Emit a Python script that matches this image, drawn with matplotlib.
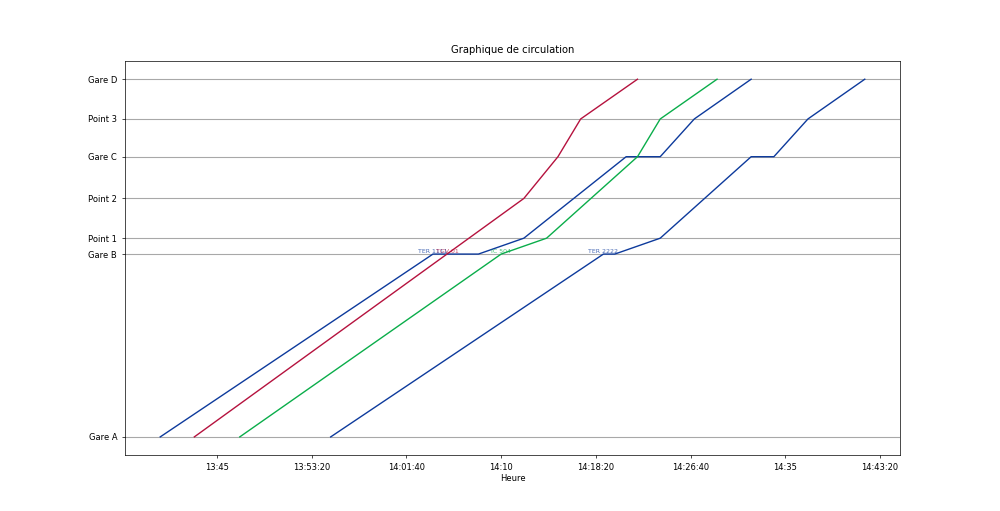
import matplotlib
matplotlib.use("Agg")
import matplotlib.pyplot as plt
from matplotlib.ticker import FuncFormatter

# --- stations (km depuis Gare A) ---
gares = ["Gare A", "Gare B", "Point 1", "Point 2", "Gare C", "Point 3", "Gare D"]
km_gares = [0, 46, 50, 60, 70.5, 80, 90]

def hms(h, m, s=0):
    return h * 3600 + m * 60 + s

# --- marches des trains : (gare, heure) ---
ter1111_gares = ["Gare A", "Gare B", "Gare B", "Point 1", "Gare C", "Gare C", "Point 3", "Gare D"]
ter1111_heures = [hms(13, 40), hms(14, 4), hms(14, 8), hms(14, 12), hms(14, 21), hms(14, 24), hms(14, 27), hms(14, 32)]

tgv01_gares = ["Gare A", "Point 2", "Gare C", "Point 3", "Gare D"]
tgv01_heures = [hms(13, 43), hms(14, 12), hms(14, 15), hms(14, 17), hms(14, 22)]

ic504_gares = ["Gare A", "Gare B", "Point 1", "Gare C", "Point 3", "Gare D"]
ic504_heures = [hms(13, 47), hms(14, 10), hms(14, 14), hms(14, 22), hms(14, 24), hms(14, 29)]

ter2222_gares = ["Gare A", "Gare B", "Gare B", "Point 1", "Gare C", "Gare C", "Point 3", "Gare D"]
ter2222_heures = [hms(13, 55), hms(14, 19), hms(14, 20), hms(14, 24), hms(14, 32), hms(14, 34), hms(14, 37), hms(14, 42)]

# label posé à l'arrivée en Gare B
trains = [
    ("TER 1111", ter1111_gares, ter1111_heures, "#0d3a9c", hms(14, 4)),
    ("TGV 01", tgv01_gares, tgv01_heures, "#b5123e", hms(13, 43) + 1334),
    ("IC 504", ic504_gares, ic504_heures, "#0aad4a", hms(14, 10)),
    ("TER 2222", ter2222_gares, ter2222_heures, "#0d3a9c", hms(14, 19)),
]

pos = dict(zip(gares, km_gares))

fig, ax = plt.subplots(figsize=(10, 5.11), dpi=100)

for y in km_gares:
    ax.axhline(y, color="#a8a8a8", lw=0.8, zorder=1)

for nom, g, t, couleur, t_label in trains:
    ys = [pos[s] for s in g]
    ax.plot(t, ys, color=couleur, lw=1.0, zorder=3)
    ax.text(t_label, pos["Gare B"], nom, color=couleur, fontsize=4.5,
            ha="center", va="bottom", alpha=0.75, zorder=4)

def fmt_heure(x, _):
    x = int(round(x))
    h, m, s = x // 3600, (x % 3600) // 60, x % 60
    return f"{h}:{m:02d}" + (f":{s:02d}" if s else "")

ax.xaxis.set_major_formatter(FuncFormatter(fmt_heure))
ax.set_yticks(km_gares)
ax.set_yticklabels(gares)
ax.tick_params(labelsize=6, length=2.1, width=0.5)
for sp in ax.spines.values():
    sp.set_linewidth(0.5)

ax.set_title("Graphique de circulation", fontsize=7.2)
ax.set_xlabel("Heure", fontsize=6, labelpad=2)

fig.savefig("out.png", dpi=100)
